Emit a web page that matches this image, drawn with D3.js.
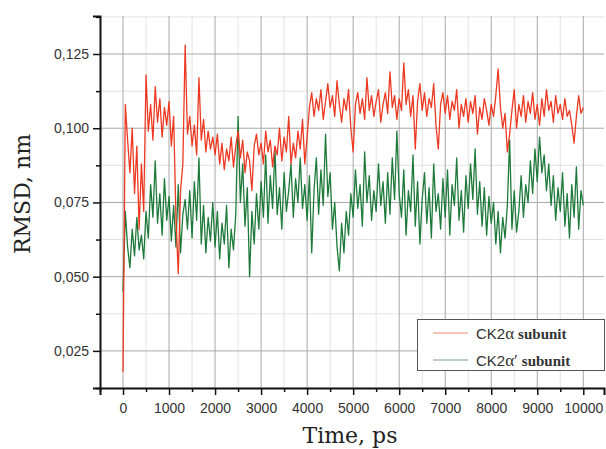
<!DOCTYPE html>
<html>
<head>
<meta charset="utf-8">
<script src="https://cdn.jsdelivr.net/npm/d3@7"></script>
<style>
  html, body { margin: 0; padding: 0; background: #fff; }
</style>
</head>
<body>
<div id="chart"></div>
<script>
// time axis, ps (one sample every 50 ps)
const timeStep = 50;

// RMSD, nm - CK2 alpha subunit
const rmsdAlpha = [
  0.018, 0.108, 0.096, 0.085, 0.100, 0.078, 0.094, 0.066, 0.088, 0.072,
  0.118, 0.099, 0.108, 0.096, 0.114, 0.102, 0.110, 0.097, 0.107, 0.101,
  0.109, 0.094, 0.104, 0.070, 0.051, 0.079, 0.088, 0.128, 0.098, 0.104,
  0.094, 0.101, 0.091, 0.117, 0.096, 0.103, 0.092, 0.099, 0.093, 0.097,
  0.091, 0.098, 0.088, 0.095, 0.086, 0.093, 0.089, 0.097, 0.087, 0.094,
  0.099, 0.090, 0.096, 0.085, 0.092, 0.089, 0.079, 0.094, 0.098, 0.091,
  0.095, 0.088, 0.099, 0.092, 0.096, 0.087, 0.094, 0.091, 0.100, 0.089,
  0.097, 0.092, 0.104, 0.088, 0.095, 0.090, 0.099, 0.093, 0.103, 0.088,
  0.097, 0.107, 0.112, 0.104, 0.110, 0.106, 0.113, 0.103, 0.109, 0.115,
  0.107, 0.111, 0.104, 0.116, 0.108, 0.102, 0.110, 0.106, 0.113, 0.100,
  0.092, 0.108, 0.112, 0.105, 0.110, 0.103, 0.117, 0.106, 0.111, 0.104,
  0.109, 0.113, 0.102, 0.108, 0.112, 0.105, 0.119, 0.107, 0.111, 0.103,
  0.110, 0.106, 0.122, 0.108, 0.113, 0.104, 0.111, 0.093, 0.109, 0.115,
  0.106, 0.112, 0.104, 0.110, 0.107, 0.115, 0.101, 0.093, 0.108, 0.112,
  0.105, 0.111, 0.103, 0.109, 0.106, 0.113, 0.100, 0.108, 0.104, 0.110,
  0.102, 0.109, 0.105, 0.111, 0.098, 0.107, 0.103, 0.110, 0.106, 0.101,
  0.108, 0.104, 0.111, 0.120, 0.107, 0.100, 0.105, 0.092, 0.098, 0.106,
  0.113, 0.100, 0.108, 0.104, 0.111, 0.102, 0.109, 0.105, 0.112, 0.103,
  0.108, 0.101, 0.110, 0.104, 0.113, 0.106, 0.109, 0.102, 0.111, 0.105,
  0.108, 0.103, 0.110, 0.104, 0.106, 0.101, 0.095, 0.104, 0.111, 0.105,
  0.107
];

// RMSD, nm - CK2 alpha' subunit
const rmsdAlphaPrime = [
  0.045, 0.072, 0.060, 0.053, 0.066, 0.057, 0.070, 0.059, 0.064, 0.056,
  0.072, 0.063, 0.081, 0.070, 0.089, 0.068, 0.078, 0.064, 0.083, 0.069,
  0.077, 0.062, 0.074, 0.060, 0.081, 0.058, 0.071, 0.076, 0.066, 0.079,
  0.063, 0.082, 0.069, 0.090, 0.061, 0.074, 0.058, 0.070, 0.062, 0.075,
  0.060, 0.072, 0.056, 0.068, 0.061, 0.074, 0.053, 0.066, 0.059, 0.071,
  0.104, 0.075, 0.088, 0.067, 0.080, 0.050, 0.072, 0.061, 0.078, 0.066,
  0.082, 0.070, 0.091, 0.068, 0.084, 0.073, 0.093, 0.071, 0.080, 0.066,
  0.085, 0.072, 0.079, 0.088, 0.070, 0.083, 0.075, 0.090, 0.073, 0.081,
  0.069, 0.084, 0.058, 0.079, 0.090, 0.071, 0.086, 0.074, 0.098, 0.077,
  0.085, 0.066, 0.075, 0.060, 0.052, 0.068, 0.058, 0.072, 0.064, 0.078,
  0.070, 0.086, 0.073, 0.081, 0.067, 0.092, 0.075, 0.084, 0.069, 0.079,
  0.072, 0.088, 0.074, 0.082, 0.068, 0.085, 0.071, 0.090, 0.076, 0.099,
  0.078, 0.070, 0.086, 0.064, 0.079, 0.072, 0.091, 0.067, 0.082, 0.061,
  0.076, 0.085, 0.068, 0.080, 0.063, 0.088, 0.072, 0.078, 0.066, 0.083,
  0.070, 0.086, 0.064, 0.081, 0.074, 0.090, 0.069, 0.079, 0.065, 0.084,
  0.073, 0.088, 0.076, 0.093, 0.071, 0.082, 0.067, 0.080, 0.064, 0.077,
  0.068, 0.075, 0.061, 0.072, 0.058, 0.070, 0.063, 0.074, 0.096, 0.066,
  0.079, 0.065, 0.072, 0.084, 0.070, 0.081, 0.075, 0.089, 0.078, 0.093,
  0.082, 0.097, 0.085, 0.091, 0.079, 0.088, 0.074, 0.084, 0.069, 0.080,
  0.072, 0.085, 0.067, 0.078, 0.063, 0.081, 0.070, 0.087, 0.066, 0.079,
  0.074
];

// ticks
const xMajorTicks = [0, 1000, 2000, 3000, 4000, 5000, 6000, 7000, 8000, 9000, 10000];
const xMinorTicks = [-500, 500, 1500, 2500, 3500, 4500, 5500, 6500, 7500, 8500, 9500];
const yMajorTicks = [0.025, 0.050, 0.075, 0.100, 0.125];
const yMinorTicks = [0.0125, 0.0375, 0.0625, 0.0875, 0.1125, 0.1375];

const seriesNames = ["CK2α", "CK2α′"];
const seriesColors = ["#ec3a22", "#1e7a3a"];
const legendColors = ["#f08a76", "#7fa083"];

createChart();

function createChart() {
  const width = 606, height = 449;
  const svg = d3.select("#chart").append("svg")
    .attr("width", width)
    .attr("height", height)
    .style("font-family", "'Liberation Sans', Arial, sans-serif");

  const x = d3.scaleLinear().domain([-500, 10450]).range([100, 604]);
  const y = d3.scaleLinear().domain([0.0125, 0.1378]).range([388, 16]);

  // grid
  const grid = svg.append("g");
  grid.selectAll(".vminor").data(xMinorTicks.filter(d => d > -500)).enter().append("line")
    .attr("x1", d => x(d)).attr("x2", d => x(d))
    .attr("y1", y.range()[1]).attr("y2", y.range()[0])
    .attr("stroke", "#e2e2e2").attr("stroke-width", 1);
  grid.selectAll(".hminor").data(yMinorTicks).enter().append("line")
    .attr("x1", x.range()[0]).attr("x2", x.range()[1])
    .attr("y1", d => y(d)).attr("y2", d => y(d))
    .attr("stroke", "#e2e2e2").attr("stroke-width", 1);
  grid.selectAll(".vmajor").data(xMajorTicks).enter().append("line")
    .attr("x1", d => x(d)).attr("x2", d => x(d))
    .attr("y1", y.range()[1]).attr("y2", y.range()[0])
    .attr("stroke", "#a8a8a8").attr("stroke-width", 1);
  grid.selectAll(".hmajor").data(yMajorTicks).enter().append("line")
    .attr("x1", x.range()[0]).attr("x2", x.range()[1])
    .attr("y1", d => y(d)).attr("y2", d => y(d))
    .attr("stroke", "#a8a8a8").attr("stroke-width", 1);

  // lines, green first so the red one sits on top
  const line = d3.line()
    .x((d, i) => x(i * timeStep))
    .y(d => y(d));

  svg.append("path")
    .attr("fill", "none")
    .attr("stroke", seriesColors[1])
    .attr("stroke-width", 1.3)
    .attr("stroke-linejoin", "round")
    .attr("d", line(rmsdAlphaPrime));
  svg.append("path")
    .attr("fill", "none")
    .attr("stroke", seriesColors[0])
    .attr("stroke-width", 1.3)
    .attr("stroke-linejoin", "round")
    .attr("d", line(rmsdAlpha));

  // axes
  const fmt = d => d3.format(".3f")(d).replace(".", ",");
  svg.append("g").attr("transform", "translate(100,0)")
    .call(d3.axisLeft(y).tickValues(yMajorTicks).tickFormat(fmt).tickSize(7).tickPadding(4));
  svg.append("g").attr("transform", "translate(100,0)")
    .call(d3.axisLeft(y).tickValues(yMinorTicks).tickFormat("").tickSize(4))
    .call(g => g.select(".domain").remove());

  svg.append("g").attr("transform", "translate(0,388)")
    .call(d3.axisBottom(x).tickValues(xMajorTicks).tickFormat(d3.format("d")).tickSize(7).tickPadding(8));
  svg.append("g").attr("transform", "translate(0,388)")
    .call(d3.axisBottom(x).tickValues(xMinorTicks).tickFormat("").tickSize(4))
    .call(g => g.select(".domain").remove());

  svg.selectAll(".domain").attr("stroke", "#111").attr("stroke-width", 2);
  svg.selectAll(".tick line").attr("stroke", "#111").attr("stroke-width", 1.5);
  svg.selectAll(".tick text")
    .attr("fill", "#333")
    .style("font-family", "'Liberation Sans', Arial, sans-serif")
    .style("font-size", "14px");

  // axis titles
  svg.append("text")
    .attr("x", 350).attr("y", 443)
    .attr("text-anchor", "middle")
    .style("font-family", "'DejaVu Serif', serif")
    .style("font-size", "22px")
    .attr("fill", "#222")
    .text("Time, ps");
  svg.append("text")
    .attr("transform", "translate(30,194) rotate(-90)")
    .attr("text-anchor", "middle")
    .style("font-family", "'DejaVu Serif', serif")
    .style("font-size", "22px")
    .attr("fill", "#222")
    .text("RMSD, nm");

  // legend
  const legend = svg.append("g");
  legend.append("rect")
    .attr("x", 417.5).attr("y", 319.5).attr("width", 187).attr("height", 51)
    .attr("fill", "#fff").attr("stroke", "#555").attr("stroke-width", 1);
  seriesNames.forEach((name, i) => {
    const ly = 333 + i * 27;
    legend.append("line")
      .attr("x1", 433).attr("x2", 468).attr("y1", ly).attr("y2", ly)
      .attr("stroke", legendColors[i]).attr("stroke-width", 1.2);
    const t = legend.append("text")
      .attr("x", 476).attr("y", ly + 6)
      .attr("fill", "#333")
      .style("font-size", "15px");
    t.append("tspan").style("font-family", "'Liberation Sans', Arial, sans-serif").text("CK2");
    t.append("tspan").style("font-family", "'Liberation Serif', serif")
      .style("font-size", "17px").text(name.slice(3));
    t.append("tspan").style("font-family", "'Liberation Serif', serif")
      .style("font-weight", "bold").attr("dx", 4).text("subunit");
  });
}
</script>
</body>
</html>
